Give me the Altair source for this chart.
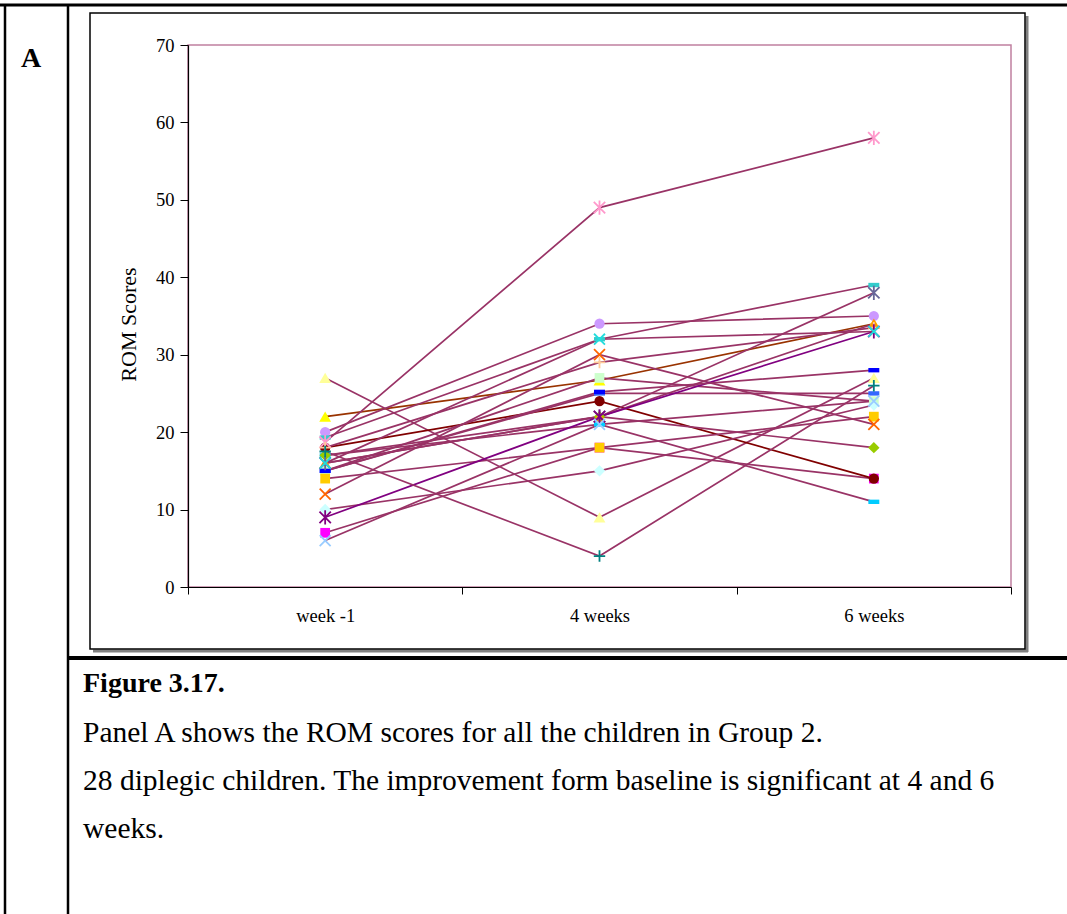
import altair as alt
import pandas as pd

# ---- data ----
weeks = ["week -1", "4 weeks", "6 weeks"]
children = [f"Child {i}" for i in range(1, 23)]
week_m1 = [27, 22, 20, 19.3, 18.7, 7, 18, 18, 17, 17, 16, 16, 15, 15, 14, 12, 10, 9, 6, 17.5, 16, 15]
week_4 = [9, 26.7, 34, 32, 49, 18, 24, 29, 21, 22, 22, 22, 25, 27, 18, 30, 15, 22, 21, 4, 32, 25.2]
week_6 = [27, 34, 35, 39, 58, 14, 14, 33.5, 11, 18, 38, 34, 25, 24, 22, 21, 23.5, 33, 24, 26, 33, 28]

# ---- marker / line styles per child ----
marker_kind = ["tri", "tri", "circle", "dash", "ast", "square", "circle", "plus", "dash", "diamond",
               "ast", "tri", "dash", "square", "square", "x", "diamond", "ast", "x", "plus", "x", "dash"]
marker_color = ["#FFFF99", "#FFFF00", "#CC99FF", "#33CCCC", "#FF99CC", "#FF00FF", "#800000", "#FFCC99",
                "#00CCFF", "#99CC00", "#666699", "#FF9900", "#3366FF", "#CCFFCC", "#FFCC00", "#FF6600",
                "#CCFFFF", "#800080", "#99CCFF", "#008080", "#22DDDD", "#0000FF"]
line_color = ["#993366", "#993300", "#993366", "#993366", "#993366", "#993366", "#800000", "#993366",
              "#993366", "#993366", "#993366", "#993366", "#993366", "#993366", "#993366", "#993366",
              "#993366", "#800080", "#993366", "#993366", "#993366", "#993366"]

shape_path = {
    "tri": "triangle-up",
    "circle": "circle",
    "square": "square",
    "diamond": "diamond",
    "dash": "M-1,-0.4H1V0.4H-1Z",
    "x": "M-1,-1L1,1M-1,1L1,-1",
    "ast": "M-1,-1L1,1M-1,1L1,-1M0,-1.25V1.25",
    "plus": "M-1,0H1M0,-1V1",
}
shape_size = {"tri": 140, "circle": 105, "square": 95, "diamond": 130, "dash": 120,
              "x": 120, "ast": 130, "plus": 130}
filled_kinds = {"tri", "circle", "square", "diamond", "dash"}

rows = []
for i, c in enumerate(children):
    for w, vals in zip(weeks, [week_m1, week_4, week_6]):
        k = marker_kind[i]
        rows.append({
            "child": c, "order": i, "week": w, "value": vals[i],
            "shape": shape_path[k], "size": shape_size[k],
            "mcolor": marker_color[i], "lcolor": line_color[i],
            "filled": k in filled_kinds,
        })
df = pd.DataFrame(rows)

SERIF = "Liberation Serif"
OX, OY = 188, 45  # plot origin in page pixels

x_enc = alt.X(
    "week:N", sort=weeks, bandPosition=0.5,
    scale=alt.Scale(type="band", paddingInner=0, paddingOuter=0),
    axis=alt.Axis(title=None, tickBand="extent", tickSize=7, labelPadding=12,
                  labelFont=SERIF, labelFontSize=18.5, labelColor="black", labelAngle=0,
                  domainColor="black", tickColor="black", domainWidth=1.2, zindex=1),
)
y_enc = alt.Y(
    "value:Q",
    scale=alt.Scale(domain=[0, 70], nice=False, zero=True),
    axis=alt.Axis(values=list(range(0, 71, 10)), tickSize=8, labelPadding=6, grid=False,
                  labelFont=SERIF, labelFontSize=18.5, labelColor="black",
                  domainColor="black", tickColor="black", domainWidth=1.2,
                  title="ROM Scores", titleFont=SERIF, titleFontSize=22,
                  titleFontWeight="normal", titleColor="black",
                  titleX=128 - OX, titleY=324 - OY, titleAlign="center",
                  titleBaseline="middle", titleAngle=-90, zindex=1),
)

one = alt.Data(values=[{"k": 1}])


def rule(x1, y1, x2, y2, w, color="black"):
    return alt.Chart(one).mark_rule(strokeWidth=w, color=color).encode(
        x=alt.value(x1 - OX), x2=alt.value(x2 - OX),
        y=alt.value(y1 - OY), y2=alt.value(y2 - OY))


def text(s, x, y, size, bold=False):
    return alt.Chart(one).mark_text(
        text=s, font=SERIF, fontSize=size, fontWeight="bold" if bold else "normal",
        align="left", baseline="alphabetic", color="black").encode(
        x=alt.value(x - OX), y=alt.value(y - OY))


decor = [
    # table lines
    rule(0, 5, 1067, 5, 3),
    rule(5, 4, 5, 914, 2.5),
    rule(68, 4, 68, 914, 2.5),
    rule(68, 658, 1067, 658, 4),
    # chart-area box with shadow
    rule(93, 651, 1028, 651, 3, "#808080"),
    rule(1027, 16, 1027, 652, 3, "#808080"),
    alt.Chart(one).mark_rect(fillOpacity=0, stroke="black", strokeWidth=1.5).encode(
        x=alt.value(90 - OX), x2=alt.value(1025 - OX),
        y=alt.value(13 - OY), y2=alt.value(649 - OY)),
    # texts
    text("A", 21, 67, 28, bold=True),
    text("Figure 3.17.", 83, 692, 28, bold=True),
    text("Panel A shows the ROM scores for all the children in Group 2.", 83, 742, 29.5),
    text("28 diplegic children. The improvement form baseline is significant at 4 and 6", 83, 790, 29.5),
    text("weeks.", 83, 838, 29.5),
]

lines = alt.Chart(df).mark_line(strokeWidth=1.7).encode(
    x=x_enc, y=y_enc, detail="child:N",
    color=alt.Color("lcolor:N", scale=None),
    order="order:Q",
)

filled_pts = alt.Chart(df).transform_filter("datum.filled").mark_point(
    filled=True, opacity=1, strokeWidth=0).encode(
    x=x_enc, y=y_enc,
    shape=alt.Shape("shape:N", scale=None),
    size=alt.Size("size:Q", scale=None),
    fill=alt.Fill("mcolor:N", scale=None),
)

stroked_pts = alt.Chart(df).transform_filter("!datum.filled").mark_point(
    filled=False, opacity=1, strokeWidth=1.8).encode(
    x=x_enc, y=y_enc,
    shape=alt.Shape("shape:N", scale=None),
    size=alt.Size("size:Q", scale=None),
    stroke=alt.Stroke("mcolor:N", scale=None),
)

chart = alt.layer(*decor, lines, filled_pts, stroked_pts).properties(
    width=1011 - OX, height=587 - OY,
    autosize=alt.AutoSizeParams(type="none"),
    padding={"left": OX, "top": OY, "right": 1067 - 1011, "bottom": 914 - 587},
    background="white",
).configure_view(stroke="#C080A0", strokeWidth=1.5)

chart.save("out.html", embed_options={"renderer": "svg", "actions": False})
